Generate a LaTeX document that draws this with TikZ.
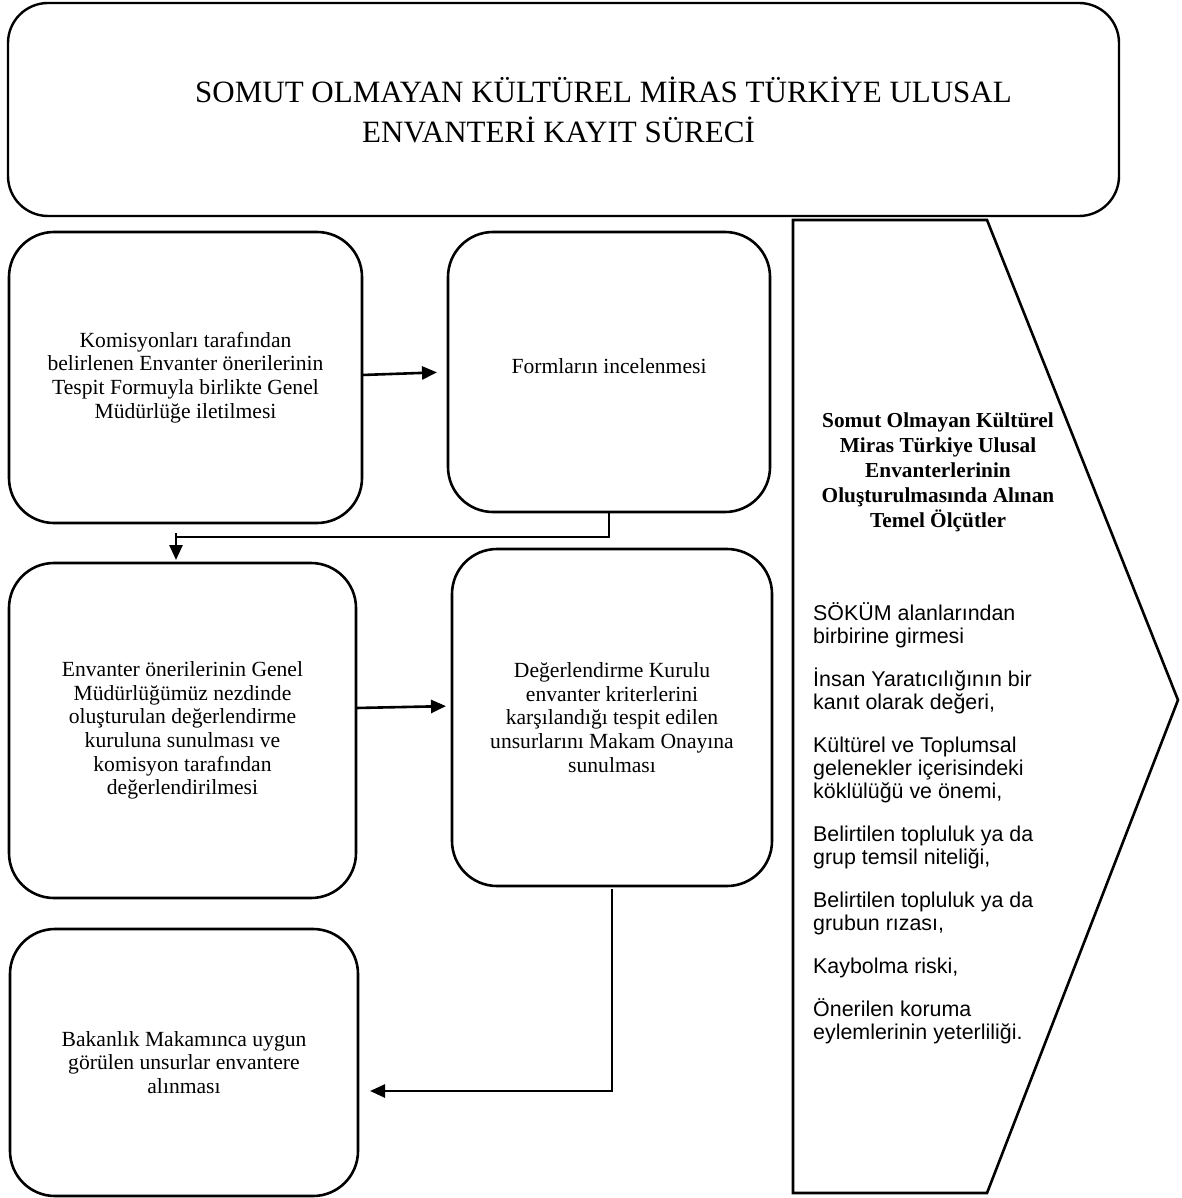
\documentclass[tikz,border=0pt]{standalone}
\usepackage{fontspec}
\setmainfont{Liberation Serif}
\setsansfont{Liberation Sans}
\usepackage{tikz}
\usetikzlibrary{positioning}
\usetikzlibrary{arrows.meta}
\tikzset{
	stepbox/.style={draw, line width=2.6pt, rounded corners=45pt, align=center, inner sep=0pt, outer sep=0pt, font=\fontsize{21.6}{23.6}\selectfont},
	flow/.style={line width=2.6pt, -{Triangle[length=15pt,width=13pt]}}
}
\begin{document}
\begin{tikzpicture}[x=1pt,y=-1pt,on grid] 
			   \useasboundingbox (0,0) rectangle (1181,1198);
			   \node[draw, line width=2.4pt, rounded corners=40pt, minimum width=1111pt, minimum height=213pt, outer sep=0pt] (t) at (563.5,109.5) {};
			   \node[align=left, anchor=north west, inner sep=0pt, font=\fontsize{31}{40}\selectfont] (t_1) at (195,77) {SOMUT OLMAYAN KÜLTÜREL MİRAS TÜRKİYE ULUSAL\\\hspace*{167pt}ENVANTERİ KAYIT SÜRECİ};
			   \node[stepbox, minimum width=353pt, minimum height=291pt] (b_1) at (185.5,377.5) {Komisyonları tarafından\\belirlenen Envanter önerilerinin\\Tespit Formuyla birlikte Genel\\Müdürlüğe iletilmesi};
			   \node[stepbox, minimum width=322pt, minimum height=280pt, text depth=11pt] (b_2) [above right=5.5pt and 423.5pt of b_1] {Formların incelenmesi};
			   \node[stepbox, minimum width=347pt, minimum height=335pt] (b_3) [below left=353pt and 3pt of b_1] {Envanter önerilerinin Genel\\Müdürlüğümüz nezdinde\\oluşturulan değerlendirme\\kuruluna sunulması ve\\komisyon tarafından\\değerlendirilmesi};
			   \node[stepbox, minimum width=320pt, minimum height=337pt] (b_4) [above right=13pt and 429.5pt of b_3] {Değerlendirme Kurulu\\envanter kriterlerini\\karşılandığı tespit edilen\\unsurlarını Makam Onayına\\sunulması};
			   \node[stepbox, minimum width=348pt, minimum height=267pt] (b_5) [below right=332pt and 1.5pt of b_3] {Bakanlık Makamınca uygun\\görülen unsurlar envantere\\alınması};
			   \draw[line width=2.6pt, line join=miter] (793,220) -- (987,220) -- (1178,700) -- (987,1193) -- (793,1193) -- cycle;
			   \node[align=center, font=\bfseries\fontsize{21.3}{25}\selectfont] (h) at (938,472) {Somut Olmayan Kültürel\\Miras Türkiye Ulusal\\Envanterlerinin\\Oluşturulmasında Alınan\\Temel Ölçütler};
			   \node[align=left, anchor=north west, inner sep=0pt, font=\sffamily\fontsize{21.4}{23.4}\selectfont] (l) at (813,602) {SÖKÜM alanlarından\\birbirine girmesi\\[19.2pt]İnsan Yaratıcılığının bir\\kanıt olarak değeri,\\[19.2pt]Kültürel ve Toplumsal\\gelenekler içerisindeki\\köklülüğü ve önemi,\\[19.2pt]Belirtilen topluluk ya da\\grup temsil niteliği,\\[19.2pt]Belirtilen topluluk ya da\\grubun rızası,\\[19.2pt]Kaybolma riski,\\[19.2pt]Önerilen koruma\\eylemlerinin yeterliliği.};
			   \coordinate (k_1) at (176,537);
				\draw[flow, shorten >=11pt] ([yshift=2.5pt]b_1.east) -- (b_2.west);
				\draw[line width=2.6pt] (b_2.south) |- (k_1);
				\draw[flow, shorten >=3pt] ([yshift=4pt]k_1) -- (k_1 |- b_3.north);
				\draw[flow, shorten >=6pt] ([yshift=22.5pt]b_3.east) -- ([yshift=11.5pt]b_4.west);
				\draw[flow, shorten >=12pt] ([yshift=-3pt]b_4.south) |- ([yshift=-28.5pt]b_5.east);
			\end{tikzpicture}
\end{document}
